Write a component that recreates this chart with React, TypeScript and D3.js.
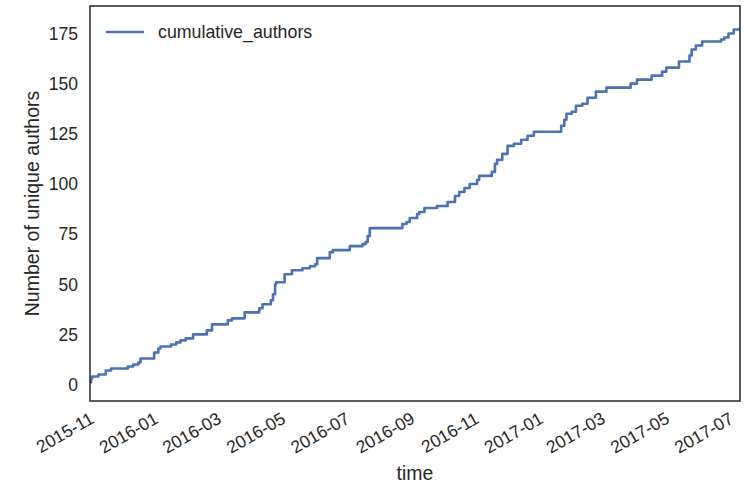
import React from "react";
import * as d3 from "d3";

const dates: string[] = [
  "2015-10-27","2015-10-28","2015-10-29","2015-11-04","2015-11-11","2015-11-16","2015-12-02","2015-12-07",
  "2015-12-12","2015-12-14","2015-12-27","2015-12-31","2016-01-02","2016-01-12","2016-01-17","2016-01-21",
  "2016-01-26","2016-02-02","2016-02-15","2016-02-20","2016-03-06","2016-03-10","2016-03-22","2016-04-05",
  "2016-04-08","2016-04-16","2016-04-18","2016-04-20","2016-04-21","2016-04-29","2016-05-06","2016-05-16",
  "2016-05-23","2016-05-28","2016-05-30","2016-06-11","2016-06-14","2016-06-30","2016-07-12","2016-07-15",
  "2016-07-17","2016-07-19","2016-08-19","2016-08-23","2016-08-26","2016-09-02","2016-09-04","2016-09-09",
  "2016-09-21","2016-10-01","2016-10-08","2016-10-12","2016-10-17","2016-10-22","2016-10-29","2016-10-31",
  "2016-11-12","2016-11-15","2016-11-17","2016-11-22","2016-11-27","2016-12-03","2016-12-10","2016-12-16",
  "2016-12-22","2017-01-17","2017-01-20","2017-01-22","2017-01-27","2017-01-31","2017-02-06","2017-02-11",
  "2017-02-19","2017-03-01","2017-03-24","2017-03-30","2017-04-13","2017-04-23","2017-04-27","2017-05-09",
  "2017-05-19","2017-05-21","2017-05-25","2017-05-31","2017-06-18","2017-06-21","2017-06-25","2017-06-30",
  "2017-07-06",
];

const cumulativeAuthors: number[] = [
  1,3,4,5,7,8,9,10,
  11,13,16,18,19,20,21,22,
  23,25,27,30,32,33,36,38,
  40,42,45,50,51,55,57,58,
  59,60,63,66,67,69,70,71,
  74,78,80,81,83,85,86,88,
  89,91,94,96,98,100,102,104,
  106,110,112,115,119,120,122,124,
  126,129,132,135,136,139,140,143,
  146,148,150,152,154,156,158,161,
  164,167,169,171,172,173,175,177,
  178,
];

const yTicks: number[] = [0, 25, 50, 75, 100, 125, 150, 175];
const xTickLabels: string[] = [
  "2015-11","2016-01","2016-03","2016-05","2016-07","2016-09",
  "2016-11","2017-01","2017-03","2017-05","2017-07",
];

const seriesName = "cumulative_authors";
const xLabel = "time";
const yLabel = "Number of unique authors";

export default function App() {
  const W = 744, H = 486;
  const left = 90, right = 740, top = 6, bottom = 401;
  const parse = d3.utcParse("%Y-%m-%d");
  const parseM = d3.utcParse("%Y-%m");
  const data = dates.map((d, i) => ({ t: parse(d) as Date, v: cumulativeAuthors[i] }));

  const x = d3.scaleUtc()
    .domain(d3.extent(data, (d) => d.t) as [Date, Date])
    .range([left, right]);
  const y = d3.scaleLinear().domain([-8.2, 188.7]).range([bottom, top]);

  const line = d3.line<{ t: Date; v: number }>()
    .x((d) => x(d.t))
    .y((d) => y(d.v))
    .curve(d3.curveStepAfter);

  const textColor = "#262626";
  const font = "'Liberation Sans', Arial, sans-serif";
  const blue = "#4C72B0";

  return (
    <svg width={W} height={H} style={{ position: "absolute", left: 0, top: 0, background: "#fff" }}
      fontFamily={font}>
      <rect x={0} y={0} width={W} height={H} fill="#fff" />
      <defs>
        <clipPath id="plotclip">
          <rect x={left} y={top} width={right - left} height={bottom - top} />
        </clipPath>
      </defs>
      <path d={line(data) || ""} fill="none" stroke={blue} strokeWidth={2.6}
        strokeLinejoin="round" clipPath="url(#plotclip)" />
      <rect x={left} y={top} width={right - left} height={bottom - top} fill="none"
        stroke="#333" strokeWidth={1.6} />
      {yTicks.map((t) => (
        <text key={t} x={78} y={y(t)} dy="0.36em" textAnchor="end" fontSize={17.5} fill={textColor}>
          {t}
        </text>
      ))}
      {xTickLabels.map((lab) => {
        const tx = x(parseM(lab) as Date);
        const ay = 422;
        return (
          <text key={lab} x={tx} y={ay} textAnchor="end" fontSize={17.5} fill={textColor}
            transform={`rotate(-30, ${tx}, ${ay})`}>
            {lab}
          </text>
        );
      })}
      <text x={(left + right) / 2} y={480} textAnchor="middle" fontSize={19.5} fill={textColor}>
        {xLabel}
      </text>
      <text transform={`translate(39, ${(top + bottom) / 2}) rotate(-90)`} textAnchor="middle"
        fontSize={19.5} fill={textColor}>
        {yLabel}
      </text>
      <line x1={106} x2={144} y1={32} y2={32} stroke={blue} strokeWidth={2.6} />
      <text x={158} y={32} dy="0.36em" fontSize={17.8} fill={textColor}>{seriesName}</text>
    </svg>
  );
}
